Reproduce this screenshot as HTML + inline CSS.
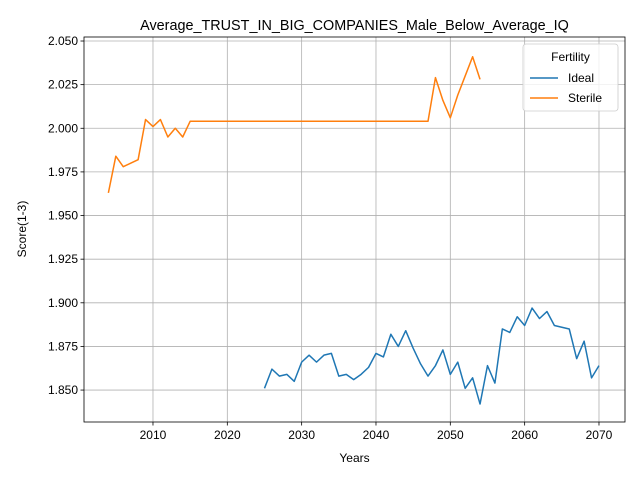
<!DOCTYPE html>
<html><head><meta charset="utf-8"><style>
body{margin:0;background:#fff;font-family:"Liberation Sans","DejaVu Sans",sans-serif}
</style></head><body>
<svg id="chart" width="640" height="480" xmlns="http://www.w3.org/2000/svg" font-family="Liberation Sans, DejaVu Sans, sans-serif"></svg>
<script>
const idealYears = [];for(let y=2025;y<=2070;y++)idealYears.push(y);
const idealValues = [1.851,1.862,1.858,1.859,1.855,1.866,1.870,1.866,1.870,1.871,1.858,1.859,1.856,1.859,1.863,1.871,1.869,1.882,1.875,1.884,1.874,1.865,1.858,1.864,1.873,1.859,1.866,1.851,1.857,1.842,1.864,1.854,1.885,1.883,1.892,1.887,1.897,1.891,1.895,1.887,1.886,1.885,1.868,1.878,1.857,1.864];
const sterileYears = [];for(let y=2004;y<=2054;y++)sterileYears.push(y);
const sterileValues = [1.963,1.984,1.978,1.980,1.982,2.005,2.001,2.005,1.995,2.000,1.995,2.004,2.004,2.004,2.004,2.004,2.004,2.004,2.004,2.004,2.004,2.004,2.004,2.004,2.004,2.004,2.004,2.004,2.004,2.004,2.004,2.004,2.004,2.004,2.004,2.004,2.004,2.004,2.004,2.004,2.004,2.004,2.004,2.004,2.029,2.016,2.006,2.019,2.030,2.041,2.028];
const xTicks = [2010,2020,2030,2040,2050,2060,2070];
const yTicks = [1.850,1.875,1.900,1.925,1.950,1.975,2.000,2.025,2.050];

const L=84,R=625,T=37,B=422;
const xMin=2000.72,xMax=2073.5,yMin=1.8317,yMax=2.0523;
const sx=v=>L+(v-xMin)/(xMax-xMin)*(R-L);
const sy=v=>B-(v-yMin)/(yMax-yMin)*(B-T);
const svg=document.getElementById('chart');
const NS='http://www.w3.org/2000/svg';
function mk(tag,attrs,parent){const e=document.createElementNS(NS,tag);for(const k in attrs)e.setAttribute(k,attrs[k]);(parent||svg).appendChild(e);return e;}
function txt(s,attrs){const e=mk('text',attrs);e.textContent=s;return e;}

const grid=mk('g',{});


xTicks.forEach(t=>{
  const x=sx(t);
  mk('line',{x1:x,x2:x,y1:T,y2:B,stroke:'#b0b0b0','stroke-width':0.8},grid);
  mk('line',{x1:x,x2:x,y1:B,y2:B+3.5,stroke:'#000','stroke-width':0.8});
  const e=txt(String(t),{x:x,y:B+17,'font-size':12,'text-anchor':'middle'});
  
  
});
yTicks.forEach(t=>{
  const y=sy(t);
  mk('line',{x1:L,x2:R,y1:y,y2:y,stroke:'#b0b0b0','stroke-width':0.8},grid);
  mk('line',{x1:L-3.5,x2:L,y1:y,y2:y,stroke:'#000','stroke-width':0.8});
  const e=txt(t.toFixed(3),{x:L-6,y:y+4,'font-size':12,'text-anchor':'end'});
  
  
});
function line(xs,vs,color,name){
  const p=mk('polyline',{points:xs.map((x,i)=>sx(x)+','+sy(vs[i])).join(' '),fill:'none',stroke:color,'stroke-width':1.5,'stroke-linejoin':'round'});
  
  
}
line(idealYears,idealValues,'#1f77b4','ideal-line');
line(sterileYears,sterileValues,'#ff7f0e','sterile-line');
const frame=mk('rect',{x:L,y:T,width:R-L,height:B-T,fill:'none',stroke:'#000','stroke-width':0.8});


let e=txt('Average_TRUST_IN_BIG_COMPANIES_Male_Below_Average_IQ',{x:(L+R)/2,y:30,'font-size':14.4,'text-anchor':'middle'});


e=txt('Years',{x:(L+R)/2,y:462,'font-size':12,'text-anchor':'middle'});


e=txt('Score(1-3)',{x:0,y:0,'font-size':12,'text-anchor':'middle',transform:'translate(26,229) rotate(-90)'});


const lg=mk('g',{});


mk('rect',{x:523,y:44,width:95,height:67,rx:3,fill:'#fff','fill-opacity':0.8,stroke:'#ccc','stroke-width':0.8},lg);
let t=mk('text',{x:570.5,y:61,'font-size':12,'text-anchor':'middle'},lg);t.textContent='Fertility';
mk('line',{x1:530,x2:558,y1:78,y2:78,stroke:'#1f77b4','stroke-width':1.5},lg);
t=mk('text',{x:568,y:82,'font-size':12},lg);t.textContent='Ideal';
mk('line',{x1:530,x2:558,y1:98,y2:98,stroke:'#ff7f0e','stroke-width':1.5},lg);
t=mk('text',{x:568,y:102,'font-size':12},lg);t.textContent='Sterile';
</script>
</body></html>
